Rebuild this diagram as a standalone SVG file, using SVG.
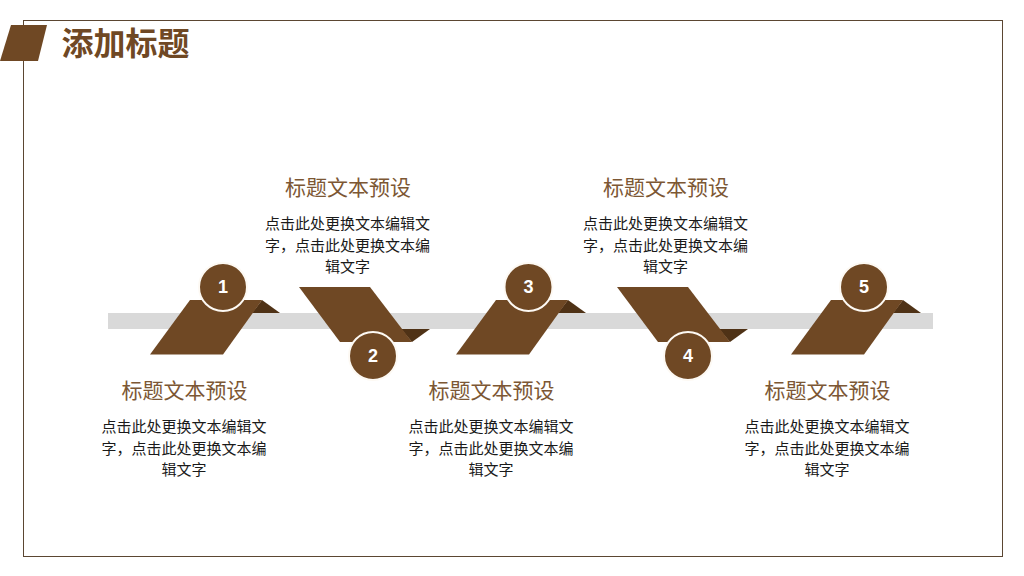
<svg xmlns="http://www.w3.org/2000/svg" width="1024" height="576" viewBox="0 0 1024 576">
<style>
text{font-family:"Noto Sans CJK SC","Liberation Sans",sans-serif;text-anchor:middle}
.p{fill:#6f4824}
.d{fill:#4f3216}
.c{fill:#6f4824;stroke:#fdf9f3;stroke-width:2}
.n{font-family:"Liberation Sans",Arial,sans-serif;font-size:18px;font-weight:700;fill:#fff}
.t{font-size:21px;fill:#7c5734;font-weight:400}
.b{font-size:15px;fill:#1a1a1a;font-weight:400}
</style>
<rect id="frame" x="23.500" y="20.500" width="979" height="536" fill="#fff" stroke="#5b4632" stroke-width="1"/>
<g id="header">
<polygon class="p" points="11,25 47,25 38,61 0,61"/>
<text x="125.500" y="55" font-size="32" font-weight="700" fill="#6f4824">添加标题</text>
</g>
<g id="connectors"><rect x="108" y="313" width="825" height="16" fill="#d9d9d9"/></g>
<defs>
<g id="up">
<polygon class="d" points="262,300 280,313 252,313"/>
<polygon class="p" points="190,300 262,300 223,354.500 150,354.500"/>
</g>
<g id="down">
<polygon class="d" points="401,329 430,329 412,342"/>
<polygon class="p" points="299,287 370,287 412,342 340,342"/>
</g>
</defs>
<g id="node1">
<use href="#up"/>
<circle class="c" cx="223" cy="287" r="24"/>
<text class="n" x="223" y="293">1</text>
<text class="t" x="184.500" y="398">标题文本预设</text>
<text class="b" x="184" y="432">点击此处更换文本编辑文</text>
<text class="b" x="184" y="454">字，点击此处更换文本编</text>
<text class="b" x="184" y="475">辑文字</text>
</g>
<g id="node2">
<use href="#down"/>
<circle class="c" cx="373" cy="356" r="24"/>
<text class="n" x="373" y="362">2</text>
<text class="t" x="348" y="195">标题文本预设</text>
<text class="b" x="347.500" y="229">点击此处更换文本编辑文</text>
<text class="b" x="347.500" y="251">字，点击此处更换文本编</text>
<text class="b" x="347.500" y="272">辑文字</text>
</g>
<g id="node3">
<use href="#up" x="306"/>
<circle class="c" cx="528.500" cy="287" r="24"/>
<text class="n" x="528.500" y="293">3</text>
<text class="t" x="491.500" y="398">标题文本预设</text>
<text class="b" x="491" y="432">点击此处更换文本编辑文</text>
<text class="b" x="491" y="454">字，点击此处更换文本编</text>
<text class="b" x="491" y="475">辑文字</text>
</g>
<g id="node4">
<use href="#down" x="318"/>
<circle class="c" cx="688" cy="356" r="24"/>
<text class="n" x="688" y="362">4</text>
<text class="t" x="666" y="195">标题文本预设</text>
<text class="b" x="665.500" y="229">点击此处更换文本编辑文</text>
<text class="b" x="665.500" y="251">字，点击此处更换文本编</text>
<text class="b" x="665.500" y="272">辑文字</text>
</g>
<g id="node5">
<use href="#up" x="641"/>
<circle class="c" cx="864" cy="287" r="24"/>
<text class="n" x="864" y="293">5</text>
<text class="t" x="827.500" y="398">标题文本预设</text>
<text class="b" x="827" y="432">点击此处更换文本编辑文</text>
<text class="b" x="827" y="454">字，点击此处更换文本编</text>
<text class="b" x="827" y="475">辑文字</text>
</g>
</svg>
